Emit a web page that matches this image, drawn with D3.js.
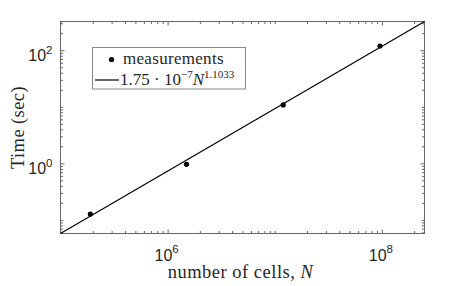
<!DOCTYPE html>
<html>
<head>
<meta charset="utf-8">
<script src="https://cdn.jsdelivr.net/npm/d3@7"></script>
<style>
  body { margin: 0; background: #fff; }
  text { fill: #262626; }
</style>
</head>
<body>
<svg width="468" height="286"></svg>
<script>
// measured run times vs. mesh size
var cells = [1.9e5, 1.5e6, 1.2e7, 9.6e7];
var times = [0.127, 0.96, 10.8, 119];
// power law fit  t = a * N^b
var fitA = 1.75e-7, fitB = 1.1033;
var xLimits = [1e5, 2.5e8];
var xMajor = [1e6, 1e8], xExp = ["6", "8"];
var yMajor = [1e0, 1e2], yExp = ["0", "2"];

var fit = n => fitA * Math.pow(n, fitB);

const svg = d3.select("svg"),
  margin = {left: 60.5, right: 43.5, top: 21.5, bottom: 52.5},
  width = 468 - margin.left - margin.right,
  height = 286 - margin.top - margin.bottom,
  axisColor = "#666";

const x = d3.scaleLog().domain(xLimits).range([0, width]);
const y = d3.scaleLog().domain([fit(xLimits[0]), fit(xLimits[1])]).range([height, 0]);

const g = svg.append("g").attr("transform", "translate(" + margin.left + "," + margin.top + ")");

// minor ticks, all four sides
const xMinor = x.ticks().filter(d => xMajor.indexOf(d) < 0);
const yMinor = y.ticks().filter(d => yMajor.indexOf(d) < 0);

function tickAxis(axis, vals, len, tr) {
  const a = g.append("g").attr("transform", tr)
    .call(axis.tickValues(vals).tickSize(len).tickSizeOuter(0).tickFormat(""));
  a.select(".domain").remove();
  a.selectAll("line").attr("stroke", axisColor);
  return a;
}
tickAxis(d3.axisBottom(x), xMinor, -2.5, "translate(0," + height + ")");
tickAxis(d3.axisTop(x), xMinor, -2.5, "");
tickAxis(d3.axisLeft(y), yMinor, -2.5, "");
tickAxis(d3.axisRight(y), yMinor, -2.5, "translate(" + width + ",0)");
const xBot = tickAxis(d3.axisBottom(x), xMajor, -4, "translate(0," + height + ")");
tickAxis(d3.axisTop(x), xMajor, -4, "");
const yLeft = tickAxis(d3.axisLeft(y), yMajor, -4, "");
tickAxis(d3.axisRight(y), yMajor, -4, "translate(" + width + ",0)");

// power-of-ten labels
xBot.selectAll(".tick").each(function(d, i) {
  const t = d3.select(this).append("text")
    .attr("x", -1.5).attr("y", 27.5).attr("text-anchor", "middle")
    .style("font-family", "Liberation Sans, Arial, sans-serif")
    .style("font-size", "16px");
  t.append("tspan").text("10");
  t.append("tspan").attr("dy", -8.5).style("font-size", "11.5px").text(xExp[i]);
});
yLeft.selectAll(".tick").each(function(d, i) {
  const t = d3.select(this).append("text")
    .attr("x", -8).attr("y", 10.5).attr("text-anchor", "end")
    .style("font-family", "Liberation Sans, Arial, sans-serif")
    .style("font-size", "16px");
  t.append("tspan").text("10");
  t.append("tspan").attr("dy", -7.5).style("font-size", "11.5px").text(yExp[i]);
});

// box
g.append("rect")
  .attr("width", width).attr("height", height)
  .attr("fill", "none").attr("stroke", axisColor).attr("stroke-width", 1);

// fit line
const line = d3.line().x(d => x(d)).y(d => y(fit(d)));
g.append("path")
  .datum(xLimits)
  .attr("d", line)
  .attr("fill", "none")
  .attr("stroke", "#000")
  .attr("stroke-width", 1.2);

// measurements
g.append("g").selectAll("circle")
  .data(cells)
  .enter().append("circle")
    .attr("cx", d => x(d))
    .attr("cy", (d, i) => y(times[i]))
    .attr("r", 2.6)
    .attr("fill", "#000");

// axis titles
const serif = "Liberation Serif, Times New Roman, serif";
svg.append("text")
  .attr("x", margin.left + width / 2 - 2).attr("y", 278)
  .attr("text-anchor", "middle")
  .style("font-family", serif).style("font-size", "18.5px")
  .style("letter-spacing", "0.5px")
  .html("number of cells, <tspan font-style='italic'>N</tspan>");

svg.append("text")
  .attr("transform", "translate(24," + (margin.top + height / 2) + ") rotate(-90)")
  .attr("text-anchor", "middle")
  .style("font-family", serif).style("font-size", "18.5px")
  .style("letter-spacing", "0.4px")
  .text("Time (sec)");

// legend
const leg = svg.append("g");
leg.append("rect")
  .attr("x", 92.5).attr("y", 47.5).attr("width", 153).attr("height", 41.5)
  .attr("fill", "#fff").attr("stroke", "#888");
leg.append("circle").attr("cx", 111.5).attr("cy", 59.5).attr("r", 2.6).attr("fill", "#000");
leg.append("line").attr("x1", 95).attr("x2", 119).attr("y1", 80).attr("y2", 80)
  .attr("stroke", "#000").attr("stroke-width", 1.2);
leg.append("text").attr("x", 123).attr("y", 64)
  .style("font-family", serif).style("font-size", "17px")
  .style("letter-spacing", "0.3px")
  .text("measurements");
const ft = leg.append("text").attr("x", 120).attr("y", 84.5)
  .style("font-family", serif).style("font-size", "17px");
ft.append("tspan").text("1.75 \u00b7 10");
ft.append("tspan").attr("dy", -7).style("font-size", "11px").text("\u22127");
ft.append("tspan").attr("dy", 7).style("font-style", "italic").text("N");
ft.append("tspan").attr("dy", -7).style("font-size", "11px").text(fitB);
</script>
</body>
</html>
